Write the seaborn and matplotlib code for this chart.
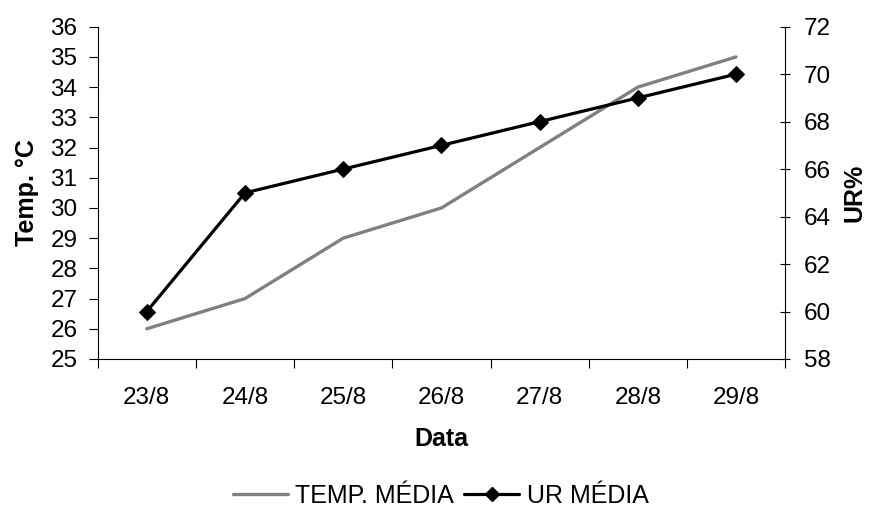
import matplotlib
matplotlib.use("Agg")
import matplotlib.pyplot as plt
import seaborn as sns
import pandas as pd
from matplotlib.lines import Line2D

datas = ["23/8", "24/8", "25/8", "26/8", "27/8", "28/8", "29/8"]
temp_media = [26, 27, 29, 30, 32, 34, 35]
ur_media = [60, 65, 66, 67, 68, 69, 70]
temp_ticks = list(range(25, 37))
ur_ticks = list(range(58, 73, 2))

sns.set_style("white")
plt.rcParams["font.family"] = ["Liberation Sans", "DejaVu Sans"]
plt.rcParams.update({"text.color": "black", "axes.labelcolor": "black",
                     "xtick.color": "black", "ytick.color": "black"})

df = pd.DataFrame({"pos": range(len(datas)), "Data": datas,
                   "temp": temp_media, "ur": ur_media})

fig = plt.figure(figsize=(8.69, 5.19), dpi=100)
ax = fig.add_axes([0.1124, 0.3083, 0.7912, 0.6403])
ax2 = ax.twinx()

sns.lineplot(data=df, x="pos", y="temp", ax=ax, color="#808080",
             linewidth=2.4, legend=False)
sns.lineplot(data=df, x="pos", y="ur", ax=ax2, color="black",
             linewidth=2.3, marker="D", markersize=8.5, markeredgecolor="black",
             legend=False)

ax.set_xlim(-0.5, len(datas) - 0.5)
ax.set_ylim(25, 36)
ax2.set_ylim(58, 72)
ax.set_yticks(temp_ticks)
ax2.set_yticks(ur_ticks)

ax.set_xticks(range(len(datas)))
ax.set_xticklabels(datas)
ax.set_xticks([i + 0.5 for i in range(-1, len(datas))], minor=True)
ax.tick_params(axis="x", which="major", length=0, labelsize=17.5, pad=20)
ax.tick_params(axis="x", which="minor", length=6.5, width=0.8, color="black",
               direction="out", bottom=True)
ax.tick_params(axis="y", length=6.5, width=0.8, color="black", direction="out",
               labelsize=17.5, pad=8, left=True)
ax2.tick_params(axis="y", length=7, width=0.8, color="black", direction="inout",
                labelsize=17.5, pad=10, right=True)

for a in (ax, ax2):
    for s in a.spines.values():
        s.set_visible(False)
ax.spines["left"].set_visible(True)
ax.spines["bottom"].set_visible(True)
ax2.spines["right"].set_visible(True)
for s in (ax.spines["left"], ax.spines["bottom"], ax2.spines["right"]):
    s.set_color("black")
    s.set_linewidth(0.8)

ax.set_xlabel("Data", fontsize=18, fontweight="bold", labelpad=13)
ax.set_ylabel("Temp. °C", fontsize=18, fontweight="bold", labelpad=8)
ax2.set_ylabel("UR%", fontsize=18, fontweight="bold", labelpad=8)

handles = [
    Line2D([], [], color="#808080", linewidth=2.4),
    Line2D([], [], color="black", linewidth=2.3, marker="D", markersize=7),
]
fig.legend(handles, ["TEMP. MÉDIA", "UR MÉDIA"], loc="center",
           bbox_to_anchor=(0.507, 0.044), ncol=2, frameon=False, fontsize=18,
           handlelength=2.2, handletextpad=0.3, columnspacing=0.4,
           borderpad=0, borderaxespad=0)

fig.savefig("out.png", dpi=100)
